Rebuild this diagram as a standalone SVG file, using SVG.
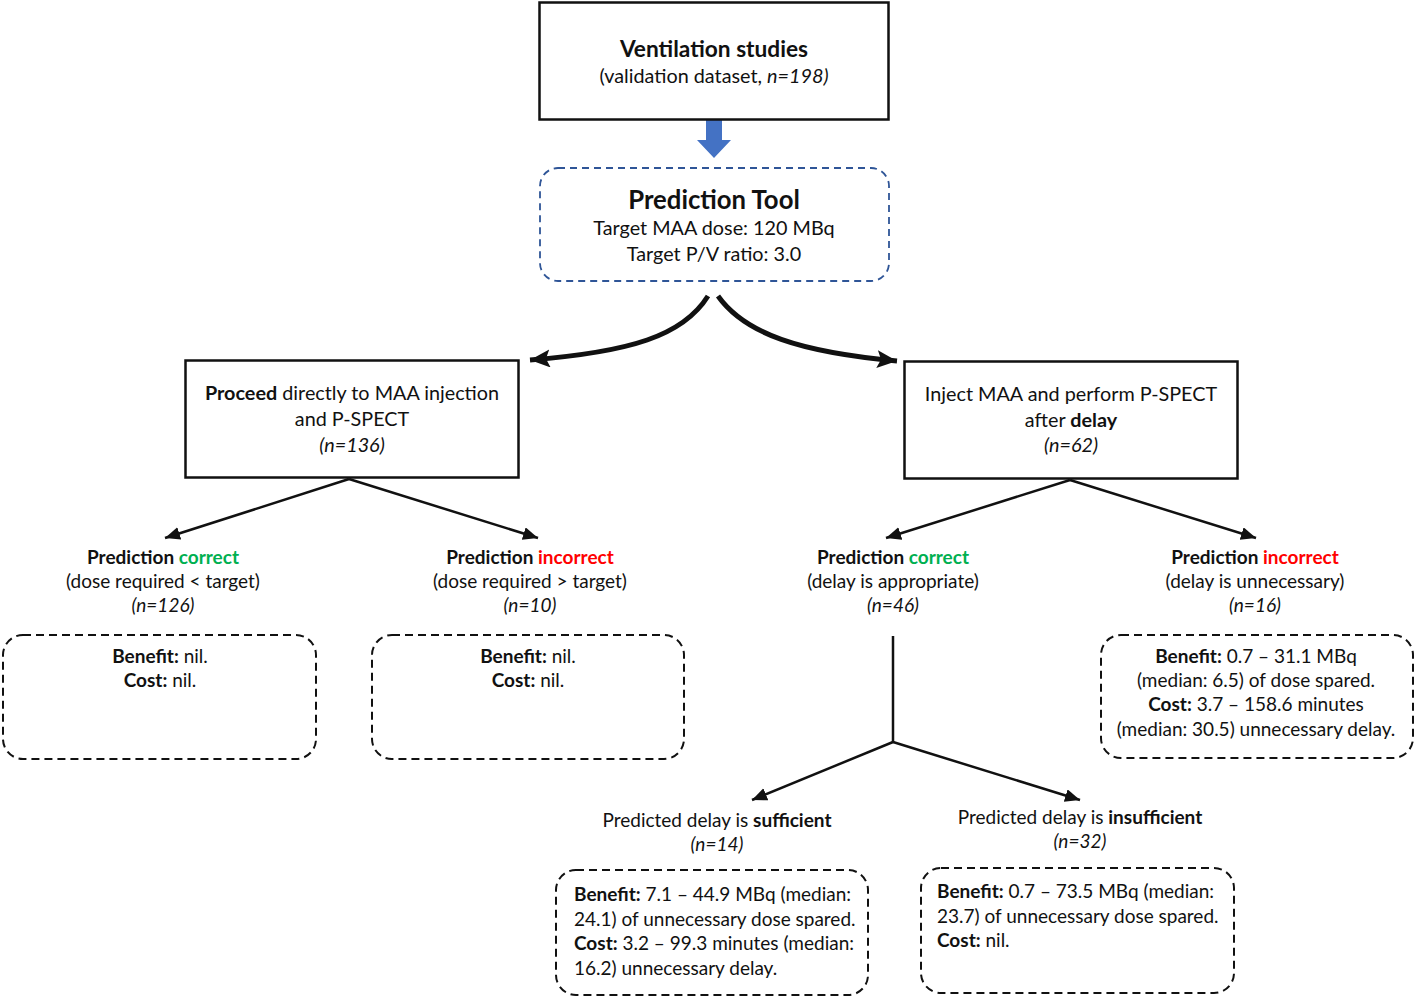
<svg xmlns="http://www.w3.org/2000/svg" width="1415" height="998" viewBox="0 0 1415 998">
<style>
text{font-family:Lato,"Open Sans","Liberation Sans",sans-serif;font-size:19px;fill:#111;text-anchor:middle}
.t{font-size:19.8px}
.b{font-weight:bold}
.i{font-style:italic}
.g{fill:#00B050}
.r{fill:#FF0000}
.box{fill:#fff;stroke:#111;stroke-width:2.5}
.dbox{fill:#fff;stroke:#111;stroke-width:2;stroke-dasharray:8 5}
.ln{fill:none;stroke:#111;stroke-width:2.5}
.thick{fill:none;stroke:#111;stroke-width:5}
.l{text-anchor:start}
</style>
<defs>
<marker id="ah" markerUnits="userSpaceOnUse" markerWidth="16" markerHeight="14" refX="15" refY="6.5" orient="auto"><path d="M0,0 L15,6.5 L0,13 z" fill="#111"/></marker>
<marker id="ahb" markerUnits="userSpaceOnUse" markerWidth="22" markerHeight="20" refX="20" refY="9" orient="auto"><path d="M0,0 L20,9 L0,18 L4,9 z" fill="#111"/></marker>
</defs>
<rect width="1415" height="998" fill="#fff"/>

<g id="connectors">
<path d="M706,120 H722 V140 H731 L714,158 L697,140 H706 z" fill="#4472C4"/>
<path class="thick" d="M708,296 C683,336 630,352 530,360" marker-end="url(#ahb)"/>
<path class="thick" d="M718,296 C745,334 800,352 897,361" marker-end="url(#ahb)"/>
<path class="ln" d="M349,479 L165,538" marker-end="url(#ah)"/>
<path class="ln" d="M349,479 L538,538" marker-end="url(#ah)"/>
<path class="ln" d="M1070,480 L886,538" marker-end="url(#ah)"/>
<path class="ln" d="M1070,480 L1256,538" marker-end="url(#ah)"/>
<path class="ln" d="M893,636 V742"/>
<path class="ln" d="M893,742 L752,800" marker-end="url(#ah)"/>
<path class="ln" d="M893,742 L1080,800" marker-end="url(#ah)"/>
</g>

<g id="ventilation">
<rect class="box" x="539.5" y="2.5" width="349" height="117"/>
<text x="714" y="57" class="b" style="font-size:22.7px">Ventilation studies</text>
<text x="714" y="83" class="t">(validation dataset, <tspan class="i">n=198)</tspan></text>
</g>

<g id="prediction-tool">
<rect x="540" y="168" width="349" height="113" rx="18" fill="#fff" stroke="#2F5597" stroke-width="1.8" stroke-dasharray="7 5"/>
<text x="714" y="209" class="b" style="font-size:25.7px">Prediction Tool</text>
<text x="714" y="235" class="t">Target MAA dose: 120 MBq</text>
<text x="714" y="261" class="t">Target P/V ratio: 3.0</text>
</g>

<g id="proceed">
<rect class="box" x="185.5" y="360.5" width="333" height="117"/>
<text x="352" y="400" class="t"><tspan class="b">Proceed</tspan> directly to MAA injection</text>
<text x="352" y="426" class="t">and P-SPECT</text>
<text x="352" y="452" class="t i">(n=136)</text>
</g>

<g id="delay">
<rect class="box" x="904.5" y="361.5" width="333" height="117"/>
<text x="1071" y="401" class="t">Inject MAA and perform P-SPECT</text>
<text x="1071" y="427" class="t">after <tspan class="b">delay</tspan></text>
<text x="1071" y="452" class="t i">(n=62)</text>
</g>

<g id="pc1">
<text x="163" y="564" class="b">Prediction <tspan class="g">correct</tspan></text>
<text x="163" y="588">(dose required &lt; target)</text>
<text x="163" y="612" class="i">(n=126)</text>
</g>
<g id="pi1">
<text x="530" y="564" class="b">Prediction <tspan class="r">incorrect</tspan></text>
<text x="530" y="588">(dose required &gt; target)</text>
<text x="530" y="612" class="i">(n=10)</text>
</g>
<g id="pc2">
<text x="893" y="564" class="b">Prediction <tspan class="g">correct</tspan></text>
<text x="893" y="588">(delay is appropriate)</text>
<text x="893" y="612" class="i">(n=46)</text>
</g>
<g id="pi2">
<text x="1255" y="564" class="b">Prediction <tspan class="r">incorrect</tspan></text>
<text x="1255" y="588">(delay is unnecessary)</text>
<text x="1255" y="612" class="i">(n=16)</text>
</g>

<g id="bc1">
<rect class="dbox" x="3" y="635" width="313" height="124" rx="20"/>
<text x="160" y="663"><tspan class="b">Benefit:</tspan> nil.</text>
<text x="160" y="687"><tspan class="b">Cost:</tspan> nil.</text>
</g>
<g id="bc2">
<rect class="dbox" x="372" y="635" width="312" height="124" rx="20"/>
<text x="528" y="663"><tspan class="b">Benefit:</tspan> nil.</text>
<text x="528" y="687"><tspan class="b">Cost:</tspan> nil.</text>
</g>
<g id="bc3">
<rect class="dbox" x="1101" y="635" width="312" height="123" rx="20"/>
<text x="1256" y="663"><tspan class="b">Benefit:</tspan> 0.7 – 31.1 MBq</text>
<text x="1256" y="687">(median: 6.5) of dose spared.</text>
<text x="1256" y="711"><tspan class="b">Cost:</tspan> 3.7 – 158.6 minutes</text>
<text x="1256" y="736">(median: 30.5) unnecessary delay.</text>
</g>

<g id="sufficient">
<text x="717" y="827">Predicted delay is <tspan class="b">sufficient</tspan></text>
<text x="717" y="851" class="i">(n=14)</text>
</g>
<g id="insufficient">
<text x="1080" y="824">Predicted delay is <tspan class="b">insufficient</tspan></text>
<text x="1080" y="848" class="i">(n=32)</text>
</g>

<g id="bc4">
<rect class="dbox" x="556" y="870" width="312" height="125" rx="20"/>
<text x="574" y="901" class="l"><tspan class="b">Benefit:</tspan> 7.1 – 44.9 MBq (median:</text>
<text x="574" y="926" class="l">24.1) of unnecessary dose spared.</text>
<text x="574" y="950" class="l"><tspan class="b">Cost:</tspan> 3.2 – 99.3 minutes (median:</text>
<text x="574" y="975" class="l">16.2) unnecessary delay.</text>
</g>
<g id="bc5">
<rect class="dbox" x="921" y="868" width="313" height="125" rx="20"/>
<text x="937" y="898" class="l"><tspan class="b">Benefit:</tspan> 0.7 – 73.5 MBq (median:</text>
<text x="937" y="923" class="l">23.7) of unnecessary dose spared.</text>
<text x="937" y="947" class="l"><tspan class="b">Cost:</tspan> nil.</text>
</g>
</svg>
